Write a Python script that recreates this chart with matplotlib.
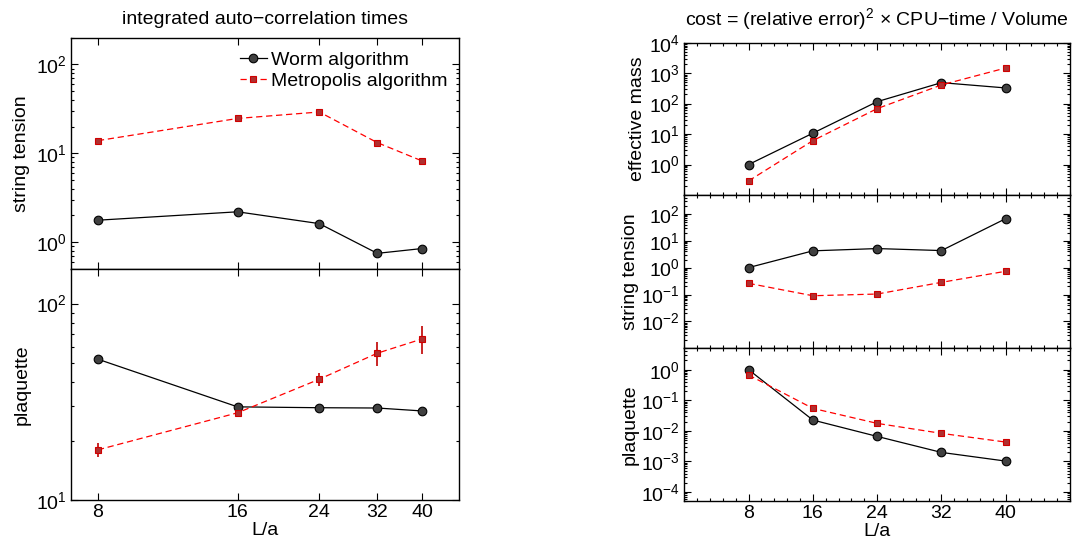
import matplotlib
matplotlib.use("Agg")
import matplotlib.pyplot as plt
from matplotlib.ticker import LogLocator, FixedLocator, NullFormatter, MultipleLocator, LogFormatterSciNotation, NullLocator

plt.rcParams['font.family'] = ['Liberation Sans', 'DejaVu Sans']
plt.rcParams['mathtext.fontset'] = 'custom'
plt.rcParams['mathtext.rm'] = 'Liberation Sans'
plt.rcParams['mathtext.it'] = 'Liberation Sans:italic'
plt.rcParams['axes.unicode_minus'] = True

# ---------------- data ----------------
L = [8, 16, 24, 32, 40]
xticklabels = ['8', '16', '24', '32', '40']

# integrated auto-correlation times
tau_string_worm = [1.77, 2.2, 1.62, 0.75, 0.85]
tau_string_metro = [13.9, 24.7, 29.2, 13.2, 8.2]
tau_plaq_worm = [52.1, 29.8, 29.5, 29.4, 28.4]
tau_plaq_metro = [18.0, 27.8, 41.2, 55.9, 66.1]
tau_plaq_metro_err = [1.5, 1.0, 3.3, 8.0, 10.5]

# cost
cost_mass_worm = [1.0, 10.7, 116, 488, 327]
cost_mass_metro = [0.29, 6.1, 68.5, 410, 1480]
cost_string_worm = [1.0, 4.2, 5.1, 4.3, 66]
cost_string_metro = [0.26, 0.09, 0.104, 0.283, 0.73]
cost_plaq_worm = [1.0, 0.0226, 0.0066, 0.00198, 0.00103]
cost_plaq_metro = [0.67, 0.0544, 0.0176, 0.0083, 0.00431]

labels = ['Worm algorithm', 'Metropolis algorithm']
# --------------------------------------

W, H = 1076, 545
fig = plt.figure(figsize=(W / 100, H / 100), dpi=100)

def ax_at(x0, y0, x1, y1):
    return fig.add_axes([x0 / W, 1 - y1 / H, (x1 - x0) / W, (y1 - y0) / H])

worm_kw = dict(color='black', lw=0.9, marker='o', ms=6.2, mfc='#404040', mec='black', mew=0.8)
metro_kw = dict(color='#ff0000', lw=0.9, ls=(0, (5, 3)), marker='s', ms=5, mfc='#b03030', mec='#d00000', mew=0.8)

FS = 14

def style(ax):
    ax.tick_params(which='both', direction='in', top=True, right=True, labelsize=FS, width=0.8)
    ax.tick_params(which='major', length=5, pad=3)
    ax.tick_params(which='minor', length=2.5)
    for s in ax.spines.values():
        s.set_linewidth(1.0)

# ---------- left column ----------
axL1 = ax_at(71, 37.7, 459, 269)
axL2 = ax_at(71, 269, 459, 500)
for ax in (axL1, axL2):
    ax.set_xscale('log')
    ax.set_yscale('log')
    ax.set_xlim(7.0, 48.0)
    ax.xaxis.set_major_locator(FixedLocator(L))
    ax.xaxis.set_minor_locator(NullLocator())
    style(ax)

axL1.plot(L, tau_string_worm, label=labels[0], **worm_kw)
axL1.plot(L, tau_string_metro, label=labels[1], **metro_kw)
axL1.set_ylim(0.5, 200)
axL1.yaxis.set_major_locator(LogLocator(base=10, numticks=10))
axL1.yaxis.set_major_formatter(LogFormatterSciNotation())
axL1.yaxis.set_minor_locator(LogLocator(base=10, subs=range(2, 10), numticks=10))
axL1.yaxis.set_minor_formatter(NullFormatter())
axL1.set_xticklabels([])
axL1.set_ylabel('string tension', fontsize=FS, labelpad=4)
axL1.set_title('integrated auto\u2212correlation times', fontsize=FS, pad=10)
leg = axL1.legend(loc='upper right', frameon=False, fontsize=FS, handlelength=1.4,
                  handletextpad=0.2, labelspacing=0.15, borderaxespad=0.2, bbox_to_anchor=(1.0, 0.99))

axL2.plot(L, tau_plaq_worm, **worm_kw)
axL2.errorbar(L, tau_plaq_metro, yerr=tau_plaq_metro_err, ecolor='#c00000', elinewidth=1.2, capsize=0, **metro_kw)
axL2.set_ylim(10, 150)
axL2.yaxis.set_major_locator(LogLocator(base=10, numticks=10))
axL2.yaxis.set_major_formatter(LogFormatterSciNotation())
axL2.yaxis.set_minor_locator(LogLocator(base=10, subs=range(2, 10), numticks=10))
axL2.yaxis.set_minor_formatter(NullFormatter())
axL2.set_xticklabels(xticklabels)
axL2.set_ylabel('plaquette', fontsize=FS, labelpad=4)
axL2.set_xlabel('L/a', fontsize=FS, labelpad=0.5)

# ---------- right column ----------
axR1 = ax_at(684.3, 42.7, 1070, 195)
axR2 = ax_at(684.3, 195, 1070, 348.3)
axR3 = ax_at(684.3, 348.3, 1070, 501.3)

panels = [
    (axR1, cost_mass_worm, cost_mass_metro, (0.1, 1e4), 'effective mass', [1e0, 1e1, 1e2, 1e3, 1e4]),
    (axR2, cost_string_worm, cost_string_metro, (1e-3, 500), 'string tension', [1e-2, 1e-1, 1e0, 1e1, 1e2]),
    (axR3, cost_plaq_worm, cost_plaq_metro, (5e-5, 5), 'plaquette', [1e-4, 1e-3, 1e-2, 1e-1, 1e0]),
]
for ax, yw, ym, ylim, ylab, yt in panels:
    ax.plot(L, yw, **worm_kw)
    ax.plot(L, ym, **metro_kw)
    ax.set_yscale('log')
    ax.set_xlim(0, 48)
    ax.set_ylim(*ylim)
    ax.xaxis.set_major_locator(FixedLocator(L))
    ax.xaxis.set_minor_locator(MultipleLocator(1.6))
    ax.yaxis.set_major_locator(FixedLocator(yt))
    ax.yaxis.set_major_formatter(LogFormatterSciNotation())
    ax.yaxis.set_minor_locator(LogLocator(base=10, subs=range(2, 10), numticks=20))
    ax.yaxis.set_minor_formatter(NullFormatter())
    style(ax)
    ax.set_ylabel(ylab, fontsize=FS, labelpad=2)
    if ax is not axR3:
        ax.set_xticklabels([])

axR3.set_xticklabels(xticklabels)
axR3.set_xlabel('L/a', fontsize=FS, labelpad=0.5)
axR1.set_title('cost = (relative error)$^{2}$ \u00d7 CPU\u2212time / Volume', fontsize=FS, pad=13)

fig.savefig('out.png', dpi=100)
